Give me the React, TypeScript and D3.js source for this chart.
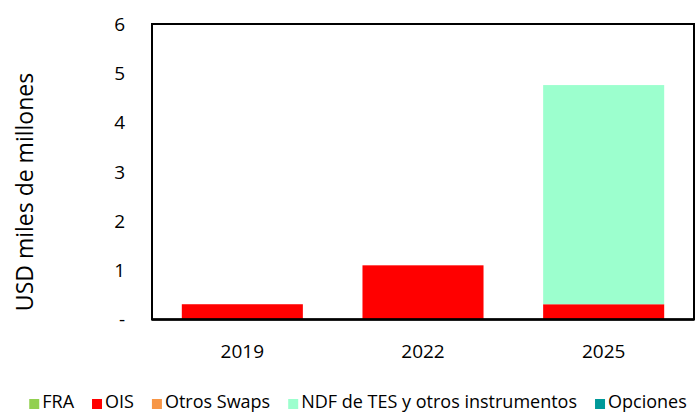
import React, { useEffect, useRef } from "react";
import * as d3 from "d3";

const categories = ["2019", "2022", "2025"];
const seriesNames = ["FRA", "OIS", "Otros Swaps", "NDF de TES y otros instrumentos", "Opciones"];
const seriesColors = ["#92D050", "#FF0000", "#F79646", "#9CFFCE", "#009999"];
const fraValues = [0, 0, 0];
const oisValues = [0.31, 1.1, 0.31];
const otrosSwapsValues = [0, 0, 0];
const ndfValues = [0, 0, 4.45];
const opcionesValues = [0, 0, 0];
const yTicks = [0, 1, 2, 3, 4, 5, 6];
const yTickLabels = ["-", "1", "2", "3", "4", "5", "6"];
const yTitle = "USD miles de millones";

const W = 700;
const H = 412;
const FONT = "'Open Sans', sans-serif";

export default function App() {
  const ref = useRef<SVGSVGElement | null>(null);

  useEffect(() => {
    const svg = d3.select(ref.current);
    svg.selectAll("*").remove();

    const left = 152, right = 694, top = 24, bottom = 319.5;
    const x = d3.scaleBand<string>().domain(categories).range([left, right]).paddingInner(0.33).paddingOuter(0.165);
    const y = d3.scaleLinear().domain([0, 6]).range([bottom, top]);

    const allSeries = [fraValues, oisValues, otrosSwapsValues, ndfValues, opcionesValues];
    const rows = categories.map((c, i) => {
      const r: any = { cat: c };
      seriesNames.forEach((s, k) => (r[s] = allSeries[k][i]));
      return r;
    });
    const stacked = d3.stack<any>().keys(seriesNames)(rows);

    const g = svg.append("g");
    stacked.forEach((layer, k) => {
      g.selectAll(null)
        .data(layer)
        .enter()
        .append("rect")
        .attr("x", (d: any) => x(d.data.cat)!)
        .attr("width", x.bandwidth())
        .attr("y", (d: any) => y(d[1]))
        .attr("height", (d: any) => Math.max(0, y(d[0]) - y(d[1])))
        .attr("fill", seriesColors[k]);
    });

    // frame
    svg.append("rect")
      .attr("x", left).attr("y", top)
      .attr("width", right - left).attr("height", bottom - top)
      .attr("fill", "none").attr("stroke", "#000").attr("stroke-width", 2);
    svg.append("line")
      .attr("x1", left).attr("x2", right).attr("y1", bottom).attr("y2", bottom)
      .attr("stroke", "#000").attr("stroke-width", 2.5);

    // y ticks
    svg.append("g").selectAll("text").data(yTicks).enter().append("text")
      .attr("x", 125).attr("y", (d) => y(d)).attr("dy", "0.36em")
      .attr("text-anchor", "end").attr("font-family", FONT).attr("font-size", 19).attr("fill", "#000")
      .text((d, i) => yTickLabels[i]);

    // x ticks
    svg.append("g").selectAll("text").data(categories).enter().append("text")
      .attr("x", (d) => x(d)! + x.bandwidth() / 2).attr("y", 358)
      .attr("text-anchor", "middle").attr("font-family", FONT).attr("font-size", 19).attr("fill", "#000")
      .text((d) => d);

    // y title
    svg.append("text")
      .attr("transform", `translate(33,192) rotate(-90)`)
      .attr("text-anchor", "middle").attr("font-family", FONT).attr("font-size", 23).attr("fill", "#000")
      .text(yTitle);

    // legend
    const lg = svg.append("g");
    const items: { w: number; g: any }[] = [];
    seriesNames.forEach((s, k) => {
      const ig = lg.append("g");
      ig.append("rect").attr("x", 0).attr("y", 399).attr("width", 10).attr("height", 10).attr("fill", seriesColors[k]);
      const t = ig.append("text").attr("x", 13).attr("y", 408).attr("font-family", FONT).attr("font-size", 18).attr("fill", "#000").text(s);
      const tw = (t.node() as SVGTextElement).getComputedTextLength();
      items.push({ w: 13 + tw, g: ig });
    });
    const gap = 18;
    const total = d3.sum(items, (d) => d.w) + gap * (items.length - 1);
    let cx = 358 - total / 2;
    items.forEach((it) => {
      it.g.attr("transform", `translate(${cx},0)`);
      cx += it.w + gap;
    });
  }, []);

  return (
    <svg ref={ref} width={W} height={H} style={{ position: "absolute", left: 0, top: 0, background: "#fff" }} />
  );
}
